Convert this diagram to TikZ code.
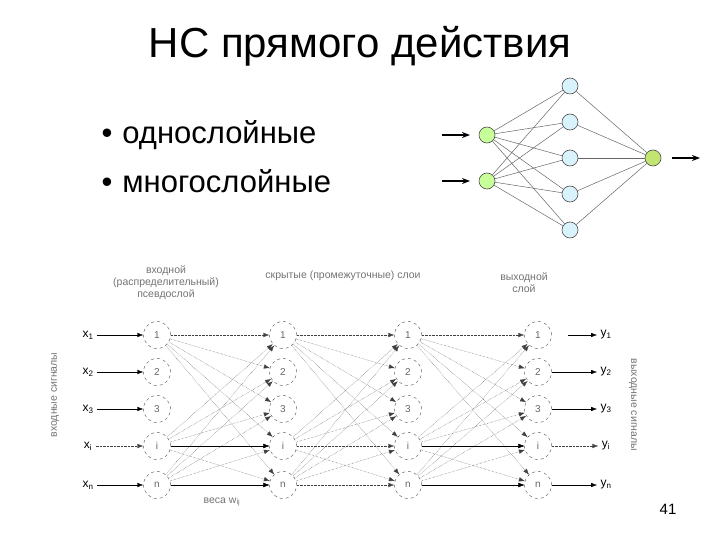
\documentclass[tikz,border=0pt]{standalone}
\usepackage{fontspec}
\setmainfont{Liberation Sans}
\usetikzlibrary{arrows.meta}
\begin{document}
\begin{tikzpicture}[x=1pt,y=-1pt,
  neur/.style={circle,draw=black!70,dashed,minimum size=27pt,inner sep=0pt,font=\fontsize{10}{10}\selectfont,text=black!60},
  small/.style={circle,draw=black!70,minimum size=16pt,inner sep=0pt,line width=0.6pt},
  lbl/.style={font=\fontsize{10.5}{12}\selectfont,text=black!55,align=center},
  io/.style={font=\fontsize{12}{12}\selectfont},
  conn/.style={densely dotted,black!75,-{Latex[length=6pt]}},
  sconn/.style={black,-{Latex[length=6pt]}},
  tl/.style={black!60,line width=0.5pt}]
\useasboundingbox (0,0) rectangle (720,540);
\node (title) at (360,46) {\fontsize{42}{42}\selectfont НС прямого действия};
\node[anchor=west] (b1) at (98,135) {\fontsize{31}{31}\selectfont •\hspace{10pt}однослойные};
\node[anchor=west] (b2) at (98,181) {\fontsize{31}{31}\selectfont •\hspace{10pt}многослойные};
% top network
\foreach \i/\y in {1/135,2/181} \node[small,fill=green!40!lime!40] (ti\i) at (487,\y) {};
\foreach \j/\y in {1/86,2/122,3/158,4/194,5/230} \node[small,fill=cyan!15] (th\j) at (570,\y) {};
\node[small,fill=yellow!60!green!60] (to) at (653,158) {};
\foreach \i in {1,2} \foreach \j in {1,...,5} \draw[tl] (ti\i) -- (th\j);
\foreach \j in {1,...,5} \draw[tl] (th\j) -- (to);
\coordinate (a1) at (442,135); \coordinate (a2) at (442,181); \coordinate (a3) at (672,158);
\draw[line width=2.2pt,-{Stealth[length=8pt]}] (a1) -- +(28,0);
\draw[line width=2.2pt,-{Stealth[length=8pt]}] (a2) -- +(28,0);
\draw[line width=2.2pt,-{Stealth[length=8pt]}] (a3) -- +(28,0);
% lower network
\foreach \c/\x in {0/157,1/283,2/408,3/538}{
  \foreach \r/\y/\t in {1/335/1,2/372/2,3/409/3,4/446/i,5/485/n}
    \node[neur] (n\c\r) at (\x,\y) {\t};
}
\foreach \r/\y/\t in {1/335/x\textsubscript{1},2/372/x\textsubscript{2},3/409/x\textsubscript{3},4/446/x\textsubscript{i},5/485/x\textsubscript{n}}
  \node[io] (x\r) at (88,\y) {\t};
\foreach \r/\y/\t in {1/335/y\textsubscript{1},2/372/y\textsubscript{2},3/409/y\textsubscript{3},4/446/y\textsubscript{i},5/485/y\textsubscript{n}}
  \node[io] (y\r) at (606,\y) {\t};
\draw[sconn] (x1) -- (n01);
\foreach \r in {2,3,5} \draw[sconn] (x\r) -- (n0\r);
\draw[conn] (x4) -- (n04);
\foreach \r in {2,3,5} \draw[sconn] (n3\r) -- (y\r);
\draw[sconn] ([xshift=30pt]n31.center) -- (y1);
\draw[conn] (n34) -- (y4);
\foreach \c/\d in {0/1,1/2,2/3}{
  \foreach \a in {1,4,5} \foreach \b in {1,...,5}
    \draw[conn] (n\c\a) -- (n\d\b);
}
\foreach \c/\d in {0/1,2/3} \foreach \a in {4,5} \draw[sconn] (n\c\a) -- (n\d\a);
\node[lbl] (l1) at (166,283) {входной\\(распределительный)\\псевдослой};
\node[lbl] (l2) at (343,276) {скрытые (промежуточные) слои};
\node[lbl] (l3) at (524,283) {выходной\\слой};
\node[lbl,rotate=90] (l4) at (55,395) {входные сигналы};
\node[lbl,rotate=-90] (l5) at (633,405) {выходные сигналы};
\node[lbl] (l6) at (222,502) {веса w\textsubscript{ij}};
\node (pg) at (668,509) {\fontsize{15}{15}\selectfont 41};
\end{tikzpicture}
\end{document}
